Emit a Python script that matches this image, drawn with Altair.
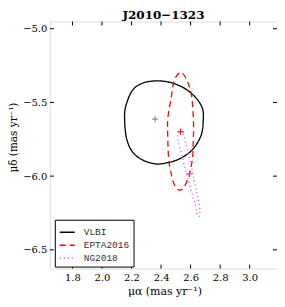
import altair as alt
import pandas as pd

# ---------------- data ----------------
title_text = "J2010\u22121323"
x_title = "\u03bc\u03b1 (mas yr\u207b\u00b9)"
y_title = "\u03bc\u03b4 (mas yr\u207b\u00b9)"

x_ticks = [1.8, 2.0, 2.2, 2.4, 2.6, 2.8, 3.0]
y_ticks = [-6.5, -6.0, -5.5, -5.0]
x_domain = [1.647, 3.185]
y_domain = [-6.627, -4.951]

series_names = ["VLBI", "EPTA2016", "NG2018"]
series_colors = ["#000000", "#ff0000", "#dd44dd"]
series_dashes = [[1, 0], [6, 4], [1, 3]]

vlbi_x = [2.153, 2.163, 2.207, 2.274, 2.362, 2.456, 2.557, 2.638, 2.679,
          2.686, 2.672, 2.611, 2.524, 2.436, 2.362, 2.274, 2.207, 2.166]
vlbi_y = [-5.606, -5.518, -5.417, -5.370, -5.354, -5.363, -5.403, -5.471, -5.538,
          -5.606, -5.721, -5.822, -5.883, -5.910, -5.917, -5.890, -5.836, -5.742]

epta_x = [2.535, 2.580, 2.609, 2.620, 2.618, 2.613, 2.591, 2.557,
          2.524, 2.490, 2.466, 2.451, 2.445, 2.446, 2.468, 2.490]
epta_y = [-5.297, -5.361, -5.473, -5.653, -5.755, -5.876, -5.991, -6.072,
          -6.096, -6.059, -5.971, -5.876, -5.720, -5.606, -5.473, -5.349]

ng_x = [2.530, 2.550, 2.580, 2.613, 2.640, 2.662,
        2.658, 2.642, 2.625, 2.580, 2.546, 2.513]
ng_y = [-5.684, -5.714, -5.834, -5.969, -6.104, -6.214,
        -6.272, -6.248, -6.172, -6.014, -5.878, -5.745]

center_x = [2.36, 2.532, 2.592]
center_y = [-5.613, -5.699, -5.984]
center_colors = ["#808080", "#ff0000", "#cc33cc"]

# ---------------- tables ----------------
rows = []
for name, xs, ys in zip(series_names, [vlbi_x, epta_x, ng_x], [vlbi_y, epta_y, ng_y]):
    for i, (a, b) in enumerate(zip(xs, ys)):
        rows.append({"series": name, "x": a, "y": b, "order": i})
contour = pd.DataFrame(rows)

xt = pd.DataFrame({"x": x_ticks})
yt = pd.DataFrame({"y": y_ticks})

W, H = 228, 248
xscale = alt.Scale(domain=x_domain, nice=False, zero=False)
yscale = alt.Scale(domain=y_domain, nice=False, zero=False)

xaxis = alt.Axis(values=x_ticks, format=".1f", ticks=False, domain=False, grid=False,
                 labelFont="DejaVu Serif", labelFontSize=10, labelColor="black",
                 labelPadding=4, title=x_title, titleFont="DejaVu Serif",
                 titleFontSize=11, titleFontWeight="normal", titleColor="black",
                 titleX=115, titleY=26, titleBaseline="alphabetic", titleAlign="center")
yaxis = alt.Axis(values=y_ticks, format=".1f", ticks=False, domain=False, grid=False,
                 labelFont="DejaVu Serif", labelFontSize=10, labelColor="black",
                 labelPadding=3, title=y_title, titleFont="DejaVu Serif",
                 titleFontSize=10.5, titleFontWeight="normal", titleColor="black",
                 titleX=-31, titleY=116, titleAngle=270, titleBaseline="bottom",
                 titleAlign="center")

X = alt.X("x:Q", scale=xscale, axis=xaxis)
Y = alt.Y("y:Q", scale=yscale, axis=yaxis)

lines = alt.Chart(contour).mark_line(interpolate="cardinal-closed", strokeWidth=1.3, clip=True).encode(
    x=X, y=Y,
    order="order:Q",
    color=alt.Color("series:N", sort=series_names,
                    scale=alt.Scale(domain=series_names, range=series_colors),
                    title=None,
                    legend=alt.Legend(orient="none", legendX=5, legendY=199,
                                      direction="vertical", symbolType="stroke",
                                      symbolSize=225, symbolStrokeWidth=1.5,
                                      labelFont="Liberation Mono", labelFontSize=9.5,
                                      labelColor="#333333", strokeColor="black",
                                      fillColor="white", padding=4, rowPadding=0,
                                      labelOffset=8, cornerRadius=0)),
    strokeDash=alt.StrokeDash("series:N", sort=series_names,
                              scale=alt.Scale(domain=series_names, range=series_dashes),
                              title=None),
)

plus_shape = "M -1 0 L 1 0 M 0 -1 L 0 1"
centers = []
for cx, cy, cc in zip(center_x, center_y, center_colors):
    centers.append(
        alt.Chart(pd.DataFrame({"x": [cx], "y": [cy]})).mark_point(
            shape=plus_shape, filled=False, size=40, strokeWidth=1, color=cc, opacity=1
        ).encode(x=X, y=Y)
    )

tick_style = dict(color="black", strokeWidth=1)
xt_bottom = alt.Chart(xt).mark_rule(**tick_style).encode(x=X, y=alt.value(H), y2=alt.value(H - 4))
xt_top = alt.Chart(xt).mark_rule(**tick_style).encode(x=X, y=alt.value(0), y2=alt.value(4))
yt_left = alt.Chart(yt).mark_rule(**tick_style).encode(y=Y, x=alt.value(0), x2=alt.value(4))
yt_right = alt.Chart(yt).mark_rule(**tick_style).encode(y=Y, x=alt.value(W), x2=alt.value(W - 4))

chart = alt.layer(lines, *centers, xt_bottom, xt_top, yt_left, yt_right).properties(
    width=W, height=H,
    title=alt.TitleParams(title_text, font="DejaVu Serif", fontSize=12, fontWeight="bold",
                          color="black", anchor="middle", offset=4, dy=5),
    autosize=alt.AutoSizeParams(type="none"),
    padding={"left": 42, "top": 13, "right": 0, "bottom": 30},
).configure_view(stroke="black", strokeWidth=1).configure(background="white")

chart.save("out.html", embed_options={"renderer": "svg", "actions": False})
